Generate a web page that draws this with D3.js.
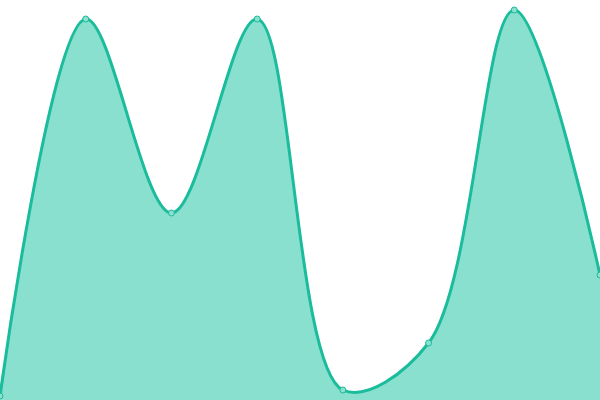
<!DOCTYPE html>
<html>
<head>
<meta charset="utf-8">
<script src="https://cdn.jsdelivr.net/npm/d3@7"></script>
<style>
  body { margin: 0; background: #fff; }
  svg { display: block; }
</style>
</head>
<body>
<svg width="600" height="400"></svg>
<script>
var categories = ['1', '2', '3', '4', '5', '6', '7', '8'];
var values = [4, 381, 187, 381, 10, 57, 390, 125];

var width = 600, height = 400;
var svg = d3.select('svg');

var x = d3.scalePoint().domain(categories).range([0, width]);
var y = d3.scaleLinear().domain([0, 400]).range([height, 0]);

// zip the two arrays so the generators can read them
var data = categories.map(function(c, i) { return { cat: c, val: values[i] }; });

var curve = d3.curveCatmullRom.alpha(0.5);

var area = d3.area()
	.x(function(d) { return x(d.cat); })
	.y0(y(0))
	.y1(function(d) { return y(d.val); })
	.curve(curve);

var line = d3.line()
	.x(function(d) { return x(d.cat); })
	.y(function(d) { return y(d.val); })
	.curve(curve);

svg.append('path')
	.datum(data)
	.attr('d', area)
	.attr('fill', '#89e0cf');

svg.append('path')
	.datum(data)
	.attr('d', line)
	.attr('fill', 'none')
	.attr('stroke', '#1abc9c')
	.attr('stroke-width', 3);

svg.selectAll('circle')
	.data(data)
	.enter()
	.append('circle')
	.attr('cx', function(d) { return x(d.cat); })
	.attr('cy', function(d) { return y(d.val); })
	.attr('r', 3)
	.attr('fill', '#8de0cd')
	.attr('stroke', '#1abc9c')
	.attr('stroke-width', 1);
</script>
</body>
</html>
